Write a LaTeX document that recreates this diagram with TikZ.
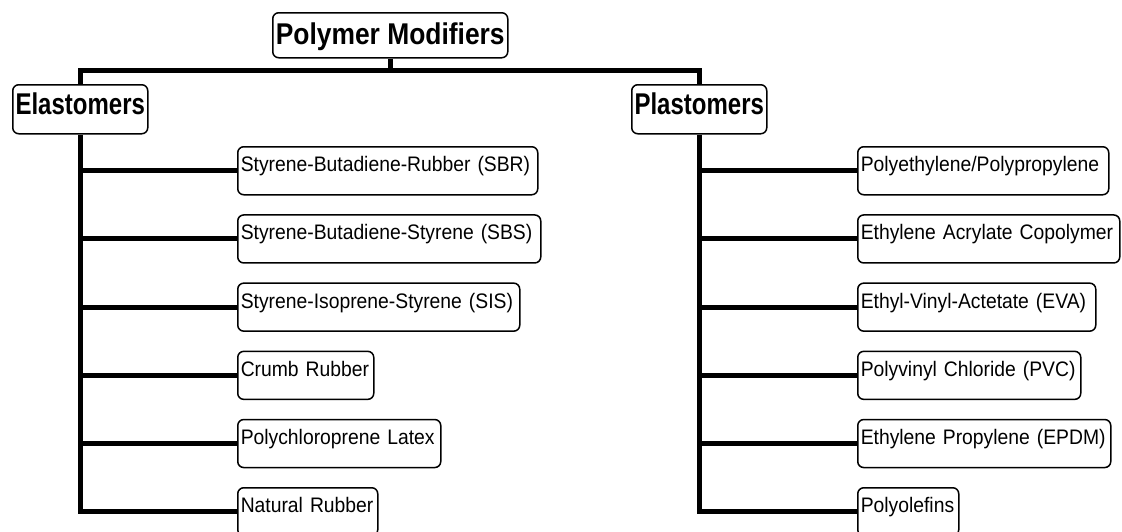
\documentclass[tikz,border=0pt]{standalone}
\usepackage{fontspec}
\setmainfont{Liberation Sans}
\newfontfamily\itemfont{Liberation Sans}[FakeStretch=0.92]
\newfontfamily\headfont{Liberation Sans}[FakeStretch=0.88]
\newfontfamily\catfont{Liberation Sans}[FakeStretch=0.80]
\usetikzlibrary{backgrounds}
\begin{document}
\begin{tikzpicture}[x=1pt,y=-1pt,
  box/.style={draw=black, line width=1.5pt, rounded corners=6pt, fill=white,
    inner xsep=0pt, inner ysep=0pt, anchor=north west},
  head/.style={box, font=\headfont\bfseries\fontsize{30}{34}\selectfont,
    minimum width=235pt, text height=32pt, text depth=13pt},
  cat/.style={box, font=\catfont\bfseries\fontsize{30}{34}\selectfont,
    minimum width=135pt, text height=30pt, text depth=19pt},
  item/.style={box, font=\itemfont\fontsize{21}{24}\selectfont,
    text height=25pt, text depth=23pt, align=left, inner xsep=3pt, text width=#1pt},
  bus/.style={line width=5pt, line join=miter}]
\useasboundingbox (0,0) rectangle (1122,531);

\node[head] (pm) at (272,12) {Polymer Modifiers};
\node[cat] (el) at (12,84) {Elastomers};
\node[cat] (pl) at (631,84) {Plastomers};

\node[item=294] (e1) at (237,146.0) {\mbox{Styrene-Butadiene-Rubber (SBR)}};
\node[item=297] (e2) at (237,214.2) {\mbox{Styrene-Butadiene-Styrene (SBS)}};
\node[item=276] (e3) at (237,282.4) {\mbox{Styrene-Isoprene-Styrene (SIS)}};
\node[item=130] (e4) at (237,350.6) {\mbox{Crumb Rubber}};
\node[item=197] (e5) at (237,418.8) {\mbox{Polychloroprene Latex}};
\node[item=134] (e6) at (237,487.0) {\mbox{Natural Rubber}};

\node[item=245] (p1) at (857,146.0) {\mbox{Polyethylene/Polypropylene}};
\node[item=256] (p2) at (857,214.2) {\mbox{Ethylene Acrylate Copolymer}};
\node[item=232] (p3) at (857,282.4) {\mbox{Ethyl-Vinyl-Actetate (EVA)}};
\node[item=217] (p4) at (857,350.6) {\mbox{Polyvinyl Chloride (PVC)}};
\node[item=247] (p5) at (857,418.8) {\mbox{Ethylene Propylene (EPDM)}};
\node[item=95]  (p6) at (857,487.0) {\mbox{Polyolefins}};

\coordinate (j) at (pm.south |- 0,70);
\begin{pgfonlayer}{background}
\fill[white] (0,0) rectangle (1122,531);
\draw[bus] (pm.south) -- (j);
\draw[bus] (el.north) |- (j) -| (pl.north);
\draw[bus] (el.south) |- (e6.west);
\draw[bus] (pl.south) |- (p6.west);
\foreach \i in {1,...,5} {
  \draw[bus] (el.south |- e\i.west) -- (e\i.west);
  \draw[bus] (pl.south |- p\i.west) -- (p\i.west);
}
\end{pgfonlayer}
\end{tikzpicture}
\end{document}
